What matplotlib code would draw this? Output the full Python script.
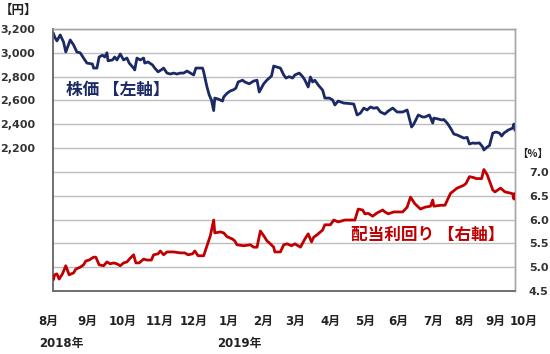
import matplotlib
matplotlib.use("Agg")
import matplotlib.pyplot as plt
import matplotlib.transforms as mtransforms

# ---- data (x = days since 1 Aug 2018) ----
price_day = [5, 6, 8, 11, 14, 16, 20, 23, 26, 29, 32, 35, 40, 41, 44, 46, 49, 51, 53, 54,
             58, 60, 62, 65, 68, 71, 73, 77, 78, 80, 83, 86, 87, 90, 94, 96, 99, 103, 104, 107,
             110, 113, 116, 119, 122, 125, 128, 131, 133, 136, 139, 140, 143, 145, 147, 149, 150, 153, 157, 158,
             161, 164, 167, 169, 171, 175, 177, 181, 185, 188, 190, 194, 197, 201, 203, 206, 209, 212, 214, 217,
             220, 222, 226, 229, 231, 234, 236, 238, 240, 243, 247, 249, 253, 256, 258, 261, 266, 270, 275, 278,
             281, 284, 287, 290, 293, 296, 299, 303, 306, 310, 314, 319, 323, 327, 329, 333, 337, 339, 343, 346,
             347, 351, 354, 356, 359, 362, 365, 368, 372, 374, 377, 379, 382, 384, 388, 391, 392, 395, 397, 400,
             403, 406, 408, 410, 414, 418, 419, 420]
price = [3160, 3133, 3100, 3150, 3090, 3007, 3108, 3066, 3007, 3000, 2956, 2914, 2906, 2872, 2872, 2965, 2980, 2965, 3000, 2933,
         2940, 2965, 2940, 2990, 2940, 2956, 2914, 2872, 2856, 2956, 2940, 2956, 2914, 2923, 2898, 2872, 2840, 2864, 2872, 2830,
         2822, 2830, 2822, 2830, 2830, 2847, 2830, 2814, 2872, 2872, 2872, 2840, 2713, 2646, 2604, 2515, 2620, 2612, 2595, 2629,
         2660, 2680, 2690, 2704, 2755, 2770, 2755, 2740, 2763, 2770, 2671, 2740, 2772, 2805, 2889, 2880, 2872, 2814, 2788, 2800,
         2788, 2814, 2830, 2800, 2772, 2713, 2797, 2755, 2770, 2730, 2687, 2620, 2620, 2604, 2562, 2595, 2578, 2575, 2570, 2478,
         2494, 2536, 2520, 2545, 2535, 2540, 2503, 2486, 2511, 2536, 2503, 2503, 2520, 2377, 2402, 2478, 2461, 2461, 2478, 2410,
         2452, 2444, 2436, 2440, 2410, 2368, 2318, 2310, 2293, 2284, 2290, 2234, 2243, 2240, 2243, 2209, 2184, 2209, 2220, 2326,
         2335, 2326, 2301, 2326, 2352, 2368, 2402, 2352]

yield_day = [5, 6, 8, 10, 13, 16, 19, 23, 25, 29, 32, 34, 37, 41, 43, 46, 50, 53, 56, 59,
             62, 65, 68, 71, 74, 77, 79, 82, 86, 89, 93, 95, 99, 101, 104, 107, 113, 119, 123, 126,
             130, 132, 135, 140, 143, 146, 149, 150, 155, 158, 161, 166, 168, 170, 176, 182, 185, 188, 191, 194,
             197, 200, 203, 204, 209, 212, 215, 219, 222, 227, 231, 234, 237, 239, 242, 247, 249, 254, 257, 261,
             267, 272, 276, 279, 283, 285, 288, 292, 296, 301, 303, 306, 311, 319, 323, 326, 330, 335, 339, 344,
             346, 347, 353, 357, 362, 368, 374, 376, 379, 383, 385, 390, 392, 395, 398, 400, 402, 407, 411, 415,
             418, 419, 420]
yield_pct = [4.75, 4.84, 4.86, 4.75, 4.86, 5.03, 4.84, 4.88, 4.96, 5.00, 5.05, 5.13, 5.15, 5.21, 5.21, 5.05, 5.03, 5.11, 5.07, 5.09,
             5.07, 5.03, 5.09, 5.11, 5.19, 5.26, 5.09, 5.09, 5.17, 5.15, 5.15, 5.26, 5.28, 5.34, 5.26, 5.32, 5.32, 5.30, 5.30, 5.26,
             5.28, 5.34, 5.24, 5.24, 5.45, 5.66, 5.99, 5.72, 5.74, 5.72, 5.64, 5.59, 5.55, 5.47, 5.45, 5.47, 5.42, 5.42, 5.76, 5.66,
             5.55, 5.49, 5.42, 5.32, 5.32, 5.47, 5.49, 5.45, 5.49, 5.42, 5.59, 5.70, 5.53, 5.63, 5.68, 5.78, 5.89, 5.89, 5.99, 5.95,
             5.99, 5.99, 5.99, 6.22, 6.20, 6.12, 6.13, 6.07, 6.14, 6.20, 6.16, 6.12, 6.16, 6.16, 6.26, 6.47, 6.33, 6.22, 6.26, 6.28,
             6.41, 6.28, 6.30, 6.30, 6.55, 6.66, 6.72, 6.76, 6.90, 6.88, 6.86, 6.86, 7.05, 6.94, 6.75, 6.62, 6.58, 6.66, 6.58, 6.56,
             6.54, 6.43, 6.54]

month_labels = ["8月", "9月", "10月", "11月", "12月", "1月", "2月", "3月", "4月", "5月", "6月", "7月", "8月", "9月", "10月"]
month_pos = [0, 35, 67, 100, 131, 162, 193, 222, 254, 285, 315, 346, 374, 402, 428]
year_labels = ["2018年", "2019年"]
year_pos = [12, 172]
left_ticks = [1200, 1400, 1600, 1800, 2000, 2200, 2400, 2600, 2800, 3000, 3200]
left_labeled_from = 2200
right_ticks = [4.5, 5.0, 5.5, 6.0, 6.5, 7.0]

NAVY = "#1b2a66"
RED = "#c00000"
CJK = ["Noto Sans CJK JP", "DejaVu Sans"]
NUM = ["DejaVu Sans", "Noto Sans CJK JP"]

fig = plt.figure(figsize=(5.5, 3.54), dpi=100)
ax = fig.add_axes([53 / 550, 1 - 291 / 354, 462 / 550, 262 / 354])
ax2 = ax.twinx()

ax.plot(price_day, price, color=NAVY, lw=2.0, zorder=3, solid_joinstyle="round")
ax2.plot(yield_day, yield_pct, color=RED, lw=2.0, zorder=3, solid_joinstyle="round")

ax.set_xlim(4.5, 420)
ax.set_ylim(1000, 3200)
ax2.set_ylim(4.5, 10.0)

ax.set_xticks([])
ax.set_yticks(left_ticks)
ax.set_yticklabels([f"{v:,}" if v >= left_labeled_from else "" for v in left_ticks],
                   fontfamily=NUM, fontweight="bold", fontsize=8, color="#333333")
ax.tick_params(axis="y", length=0, pad=13)
ax.grid(axis="y", color="#bdbdbd", lw=1.0)
ax.set_axisbelow(True)

ax2.set_yticks(right_ticks)
ax2.set_yticklabels([f"{v:.1f}" for v in right_ticks],
                    fontfamily=NUM, fontweight="bold", fontsize=8, color="#333333")
ax2.tick_params(axis="y", length=0, pad=10)

for a in (ax, ax2):
    for s in ("top", "right"):
        a.spines[s].set_color("#a6a6a6")
        a.spines[s].set_linewidth(1.0)
    for s in ("left", "bottom"):
        a.spines[s].set_color("#6e6e6e")
        a.spines[s].set_linewidth(1.2)

trans = mtransforms.blended_transform_factory(ax.transData, fig.transFigure)
for p, lab in zip(month_pos, month_labels):
    ax.text(p, 1 - 321 / 354, lab, transform=trans, ha="center", va="center",
            fontfamily=NUM, fontweight="bold", fontsize=8.5, color="#222222", clip_on=False)
for p, lab in zip(year_pos, year_labels):
    ax.text(p, 1 - 344 / 354, lab, transform=trans, ha="center", va="center",
            fontfamily=NUM, fontweight="bold", fontsize=8.5, color="#222222", clip_on=False)

fig.text(19 / 550, 1 - 10 / 354, "【円】", ha="center", va="center",
         fontfamily=CJK, fontweight="bold", fontsize=9, color="#222222")
fig.text(533 / 550, 1 - 154 / 354, "【%】", ha="center", va="center",
         fontfamily=CJK, fontweight="bold", fontsize=7.5, color="#222222")

fig.text(118 / 550, 1 - 90 / 354, "株価 【左軸】", ha="center", va="center",
         fontfamily=CJK, fontweight="bold", fontsize=12, color=NAVY)
fig.text(428 / 550, 1 - 235 / 354, "配当利回り 【右軸】", ha="center", va="center",
         fontfamily=CJK, fontweight="bold", fontsize=12, color=RED)

fig.savefig("out.png", dpi=100, facecolor="white")
